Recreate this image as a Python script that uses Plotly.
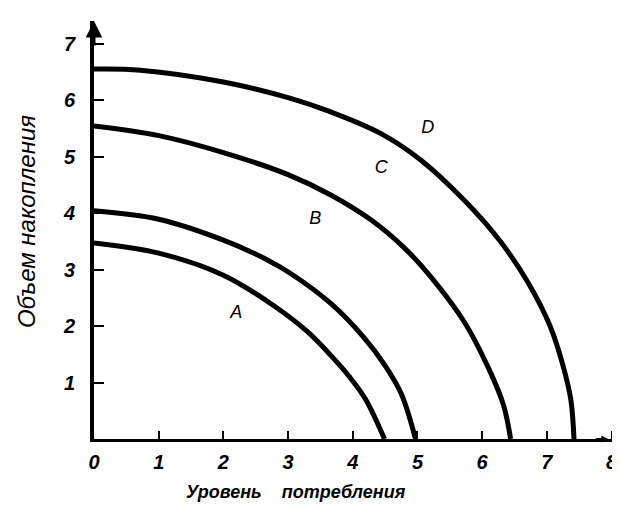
import plotly.graph_objects as go

# production possibility curves (consumption, accumulation)
consumption_a = [0, 1.0, 2.0, 2.78, 3.3, 3.66, 3.95, 4.2, 4.49]
accumulation_a = [3.47, 3.29, 2.90, 2.36, 1.90, 1.48, 1.10, 0.70, 0]

consumption_b = [0, 1.0, 2.0, 2.68, 3.04, 3.66, 4.17, 4.5, 4.75, 4.97]
accumulation_b = [4.04, 3.89, 3.52, 3.17, 2.93, 2.40, 1.80, 1.30, 0.80, 0]

consumption_c = [0, 1.0, 2.0, 3.0, 3.66, 4.28, 4.8, 5.2, 5.72, 6.1, 6.33, 6.44]
accumulation_c = [5.54, 5.37, 5.07, 4.68, 4.32, 3.88, 3.38, 2.88, 2.08, 1.25, 0.6, 0]

consumption_d = [0, 0.72, 2.0, 3.04, 3.66, 4.43, 5.05, 5.72, 6.28, 6.72, 7.05, 7.25, 7.37, 7.42]
accumulation_d = [6.55, 6.53, 6.32, 6.03, 5.79, 5.41, 4.94, 4.23, 3.50, 2.75, 2.0, 1.3, 0.7, 0]

curve_labels = ["A", "B", "C", "D"]
label_x = [2.2, 3.42, 4.44, 5.16]
label_y = [2.22, 3.88, 4.78, 5.5]

x_ticks = [0, 1, 2, 3, 4, 5, 6, 7, 8]
x_tick_text = ["0", "1", "2", "3", "4", "5", "6", "7", "8"]
y_ticks = [1, 2, 3, 4, 5, 6, 7]
y_tick_text = ["1", "2", "3", "4", "5", "6", "7"]

FONT = "Liberation Sans"

fig = go.Figure()

curves = [
    (consumption_a, accumulation_a),
    (consumption_b, accumulation_b),
    (consumption_c, accumulation_c),
    (consumption_d, accumulation_d),
]
for xs, ys in curves:
    fig.add_trace(go.Scatter(
        x=xs, y=ys, mode="lines",
        line=dict(color="black", width=5, shape="spline", smoothing=1.0),
        cliponaxis=False, hoverinfo="skip", showlegend=False,
    ))

fig.add_trace(go.Scatter(
    x=label_x, y=label_y, mode="text", text=curve_labels,
    textfont=dict(family=FONT, size=18, style="italic", color="black"),
    cliponaxis=False, hoverinfo="skip", showlegend=False,
))

tick_font = dict(family=FONT, size=20, style="italic", weight="bold", color="black")

# the page body adds an 8px offset, so margins are pulled in by 8px
fig.update_layout(
    width=620, height=506,
    margin=dict(l=86, r=10, t=13, b=75),
    plot_bgcolor="white", paper_bgcolor="white",
    xaxis=dict(
        range=[0, 8.1], showgrid=False, zeroline=False,
        showline=True, linecolor="black", linewidth=3,
        ticks="inside", ticklen=8, tickwidth=2, tickcolor="black",
        tickvals=x_ticks, ticktext=x_tick_text, tickfont=tick_font,
        ticklabelstandoff=3, ticklabeloverflow="allow",
    ),
    yaxis=dict(
        range=[0, 7.4], showgrid=False, zeroline=False,
        showline=True, linecolor="black", linewidth=4,
        ticks="inside", ticklen=10, tickwidth=2, tickcolor="black",
        tickvals=y_ticks, ticktext=y_tick_text, tickfont=tick_font,
        ticklabelstandoff=11,
    ),
    annotations=[
        # arrow heads on the axes
        dict(x=0, y=7.4, xref="x", yref="y", ax=0, ay=26, text="",
             showarrow=True, arrowhead=2, arrowsize=1.1, arrowwidth=3, arrowcolor="black"),
        dict(x=7.95, y=0, xref="x", yref="y", ax=-14, ay=0, text="",
             showarrow=True, arrowhead=2, arrowsize=0.7, arrowwidth=2, arrowcolor="black"),
        dict(x=0.385, y=-0.127, xref="paper", yref="paper", xanchor="center", yanchor="middle",
             text="Уровень    потребления", showarrow=False,
             font=dict(family=FONT, size=18, style="italic", weight="bold", color="black")),
        dict(x=-0.13, y=0.521, xref="paper", yref="paper", xanchor="center", yanchor="middle",
             textangle=-90, text="Объем накопления", showarrow=False,
             font=dict(family=FONT, size=24, style="italic", color="black")),
    ],
)

fig.write_html("out.html")
